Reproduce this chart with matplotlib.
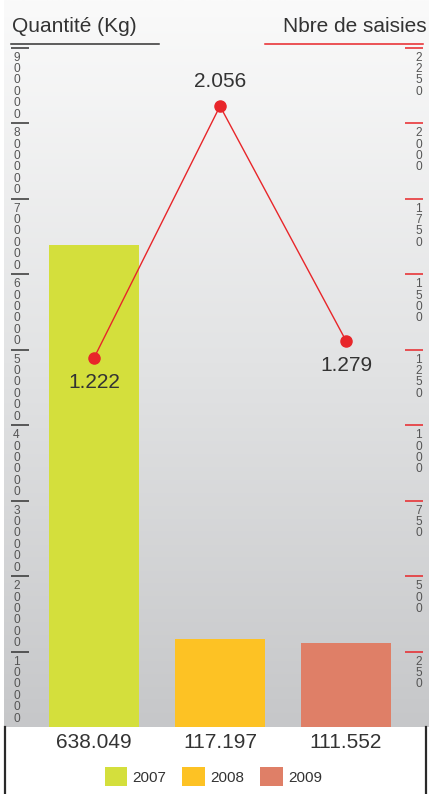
import numpy as np
import matplotlib
matplotlib.use('Agg')
import matplotlib.pyplot as plt
from matplotlib.colors import LinearSegmentedColormap
from matplotlib.patches import Patch
from matplotlib.lines import Line2D

plt.rcParams['font.family'] = ['Liberation Sans', 'DejaVu Sans']

# data
annees = ['2007', '2008', '2009']
quantites = [638049, 117197, 111552]      # Kg
saisies = [1222, 2056, 1279]              # nombre de saisies
couleurs = ['#d4df3c', '#fdc224', '#df7f67']
ticks_qte = [100000, 200000, 300000, 400000, 500000, 600000, 700000, 800000, 900000]
ticks_sais = [250, 500, 750, 1000, 1250, 1500, 1750, 2000, 2250]

def fmt(v):
    return f'{v:,}'.replace(',', '.')

W, H = 431, 794
fig = plt.figure(figsize=(W / 100, H / 100), dpi=100)
fig.patch.set_facecolor('white')

# plot area in pixels: x 4..429, y 0..727 from top
x0, x1, ybot = 4, 429, 727
ax = fig.add_axes([x0 / W, (H - ybot) / H, (x1 - x0) / W, ybot / H])

px_per_100k = 75.5
ymax = ybot / px_per_100k * 100000
ratio = 400.0   # left scale / right scale

# bar geometry (in pixels -> data units)
pitch = 126.0
bw = 90 / pitch
xl = -(94 - x0) / pitch
xr = 2 + (x1 - 346) / pitch
xs = np.arange(len(annees))

# vertical gradient background, light at the top, grey at the bottom
grad = np.linspace(0, 1, 256).reshape(-1, 1)
cmap = LinearSegmentedColormap.from_list('bg', ['#c6c7c9', '#e2e3e4', '#fafafa'])
ax.imshow(grad, extent=[xl, xr, 0, ymax], aspect='auto', cmap=cmap, zorder=0,
          origin='lower')

ax.bar(xs, quantites, width=bw, color=couleurs, zorder=2)
ax.set_xlim(xl, xr)
ax.set_ylim(0, ymax)
for s in ax.spines.values():
    s.set_visible(False)
ax.spines['left'].set_position(('axes', 7 / (x1 - x0)))
ax.set_xticks([])
ax.set_yticks(ticks_qte)
ax.set_yticklabels([])
ax.tick_params(axis='y', direction='in', length=13, width=1.1, color='#333333')

# stacked digit labels under each tick
for t in ticks_qte:
    ax.annotate('\n'.join(str(t)), xy=((16.5 - x0) / (x1 - x0), t),
                xycoords=('axes fraction', 'data'), xytext=(0, -3),
                textcoords='offset points', ha='center', va='top',
                fontsize=8.6, linespacing=0.93, color='#555555')

# values under the bars
for x, q in zip(xs, quantites):
    ax.annotate(fmt(q), xy=(x, 0), xycoords=('data', 'axes fraction'),
                xytext=(0, -4.5), textcoords='offset points', ha='center',
                va='top', fontsize=15, color='#333333', annotation_clip=False)

# number of seizures on the right scale
ax2 = ax.twinx()
ax2.patch.set_visible(False)
ax2.plot(xs, saisies, color='#e8262a', lw=1.0, marker='o', ms=8, zorder=4)
ax2.set_ylim(0, ymax / ratio)
ax2.set_xlim(xl, xr)
for s in ax2.spines.values():
    s.set_visible(False)
ax2.spines['right'].set_position(('axes', (423 - x0) / (x1 - x0)))
ax2.set_yticks(ticks_sais)
ax2.set_yticklabels([])
ax2.tick_params(axis='y', direction='in', length=13, width=1.1, color='#e8262a')

for t in ticks_sais:
    ax2.annotate('\n'.join(str(t)), xy=((418.5 - x0) / (x1 - x0), t),
                 xycoords=('axes fraction', 'data'), xytext=(0, -3),
                 textcoords='offset points', ha='center', va='top',
                 fontsize=8.6, linespacing=0.93, color='#555555')

for x, s, pos in zip(xs, saisies, ['below', 'above', 'below']):
    if pos == 'above':
        ax2.annotate(fmt(s), xy=(x, s), xytext=(0, 14), textcoords='offset points',
                     ha='center', va='baseline', fontsize=15, color='#333333')
    else:
        ax2.annotate(fmt(s), xy=(x, s), xytext=(0, -11), textcoords='offset points',
                     ha='center', va='top', fontsize=15, color='#333333')

# axis titles with underlines
fig.text(12 / W, 1 - 32.5 / H, 'Quantité (Kg)', fontsize=15, color='#333333',
         ha='left', va='baseline')
fig.text(427 / W, 1 - 32.5 / H, 'Nbre de saisies', fontsize=15, color='#333333',
         ha='right', va='baseline')
fig.add_artist(Line2D([11 / W, 159 / W], [1 - 43.5 / H] * 2, color='#333333', lw=1.1))
fig.add_artist(Line2D([265 / W, 423 / W], [1 - 43.5 / H] * 2, color='#e8262a', lw=1.1))

# frame sides below the plot area
yb = 1 - ybot / H
fig.add_artist(Line2D([5.5 / W] * 2, [0, yb], color='#2a2a2a', lw=1.6))
fig.add_artist(Line2D([426 / W] * 2, [0, yb], color='#2a2a2a', lw=1.6))

# legend
handles = [Patch(facecolor=c, edgecolor='none', label=a) for a, c in zip(annees, couleurs)]
fig.legend(handles=handles, loc='center', bbox_to_anchor=(213.5 / W, 17.5 / H),
           ncol=3, frameon=False, fontsize=11, handlelength=1.5, handleheight=1.5,
           handletextpad=0.33, columnspacing=1.05, borderpad=0, labelcolor='#333333')

fig.savefig('out.png', dpi=100)
